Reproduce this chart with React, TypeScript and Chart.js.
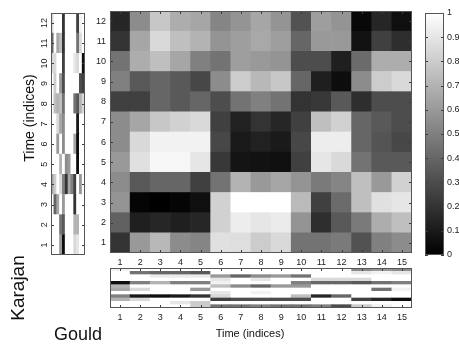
import React, { useEffect, useRef } from "react";
import { Chart, registerables } from "chart.js";
Chart.register(...registerables);

const FONT = "'Liberation Sans', Arial, sans-serif";

// Karajan time frames (columns of the similarity matrix)
const karajanTime = ["1", "2", "3", "4", "5", "6", "7", "8", "9", "10", "11", "12", "13", "14", "15"];
// Gould time frames (rows of the similarity matrix)
const gouldTime = [1, 2, 3, 4, 5, 6, 7, 8, 9, 10, 11, 12];
// chroma bins of the feature strips
const chromaBins = ["1", "2", "3", "4", "5", "6", "7", "8", "9", "10", "11", "12"];
const binIndex = [1, 2, 3, 4, 5, 6, 7, 8, 9, 10, 11, 12];
const colorbarTicks = [0, 0.1, 0.2, 0.3, 0.4, 0.5, 0.6, 0.7, 0.8, 0.9, 1];

// similarity[gouldTime-1][karajanTime-1]
const similarity: number[][] = [
  [0.2, 0.6, 0.72, 0.55, 0.52, 0.88, 0.87, 0.8, 0.85, 0.45, 0.45, 0.48, 0.32, 0.5, 0.55],
  [0.38, 0.12, 0.15, 0.12, 0.15, 0.82, 0.93, 0.9, 0.92, 0.58, 0.18, 0.35, 0.48, 0.68, 0.75],
  [0.58, 0.02, 0.0, 0.02, 0.06, 0.82, 1.0, 1.0, 1.0, 0.73, 0.25, 0.42, 0.75, 0.88, 0.9],
  [0.55, 0.35, 0.4, 0.4, 0.25, 0.45, 0.7, 0.6, 0.65, 0.58, 0.48, 0.52, 0.75, 0.6, 0.82],
  [0.6, 0.88, 0.97, 0.97, 0.9, 0.22, 0.08, 0.07, 0.06, 0.25, 0.9, 0.85, 0.45, 0.35, 0.35],
  [0.55, 0.85, 0.95, 0.95, 0.95, 0.28, 0.1, 0.13, 0.1, 0.28, 0.93, 0.93, 0.4, 0.33, 0.28],
  [0.55, 0.65, 0.78, 0.82, 0.85, 0.25, 0.13, 0.2, 0.15, 0.25, 0.75, 0.82, 0.4, 0.35, 0.3],
  [0.25, 0.25, 0.4, 0.35, 0.4, 0.3, 0.45, 0.5, 0.45, 0.2, 0.22, 0.35, 0.18, 0.3, 0.3],
  [0.5, 0.35, 0.4, 0.35, 0.28, 0.55, 0.8, 0.72, 0.78, 0.4, 0.12, 0.05, 0.55, 0.8, 0.85],
  [0.45, 0.68, 0.75, 0.65, 0.5, 0.45, 0.62, 0.6, 0.58, 0.3, 0.3, 0.12, 0.42, 0.68, 0.68],
  [0.2, 0.65, 0.85, 0.75, 0.7, 0.58, 0.62, 0.66, 0.62, 0.4, 0.6, 0.6, 0.07, 0.25, 0.18],
  [0.15, 0.55, 0.78, 0.68, 0.65, 0.52, 0.58, 0.65, 0.58, 0.32, 0.62, 0.58, 0.03, 0.15, 0.06],
];

// gouldChroma[gouldTime-1][bin-1]
const gouldChroma: number[][] = [
  [1, 1, 1, 0.6, 0.05, 1, 1, 1, 0.85, 0.9, 1, 1],
  [1, 1, 1, 0.45, 0.35, 1, 1, 1, 0.7, 0.7, 1, 1],
  [1, 0.4, 0.65, 1, 0.6, 1, 1, 1, 0.2, 1, 1, 1],
  [0.65, 0.8, 1, 0.85, 0.5, 0.2, 0.65, 0.5, 0.25, 1, 0.6, 1],
  [1, 1, 1, 0.7, 1, 0.55, 0.6, 1, 1, 0.05, 1, 1],
  [1, 1, 0.6, 1, 0.55, 1, 1, 1, 0.65, 0.05, 1, 1],
  [1, 1, 0.85, 0.65, 0.55, 1, 1, 1, 1, 0.1, 1, 1],
  [1, 0.75, 0.7, 0.75, 0.45, 1, 1, 1, 0.45, 0.35, 0.7, 0.85],
  [1, 0.8, 1, 0.6, 0.3, 1, 1, 1, 1, 1, 0.3, 0.25],
  [0.85, 0.85, 1, 1, 0.25, 1, 1, 1, 0.9, 0.85, 1, 0.05],
  [0.4, 1, 0.65, 0.75, 0.2, 1, 1, 1, 1, 0.45, 0.85, 1],
  [0.85, 1, 1, 1, 0.2, 1, 1, 1, 1, 0.25, 0.95, 1],
];

// karajanChroma[bin-1][karajanTime-1], bin 1 at the bottom of the strip
const karajanChroma: number[][] = [
  [1, 1, 1, 1, 0.8, 0.45, 0.45, 0.5, 0.45, 0.45, 0.5, 0.3, 0.8, 0.95, 1],
  [1, 1, 1, 0.9, 0.8, 1, 1, 1, 1, 1, 1, 1, 1, 1, 1],
  [0.7, 0.85, 1, 1, 1, 0.25, 0.3, 0.3, 0.3, 0.3, 1, 1, 0.25, 0.15, 0.05],
  [0.5, 0.1, 0.05, 0.1, 0.2, 0.85, 1, 1, 1, 0.75, 0.15, 0.4, 1, 1, 1],
  [1, 1, 1, 1, 1, 0.9, 1, 0.95, 1, 1, 1, 1, 1, 1, 1],
  [0.65, 0.85, 1, 1, 0.6, 1, 1, 1, 1, 1, 1, 1, 1, 0.45, 0.95],
  [0.7, 1, 1, 1, 1, 0.75, 0.55, 0.4, 0.6, 0.6, 1, 1, 1, 1, 1],
  [0.05, 0.5, 0.7, 0.5, 0.5, 0.95, 1, 1, 1, 0.5, 0.4, 0.4, 0.35, 0.45, 0.5],
  [1, 1, 1, 1, 1, 0.9, 1, 0.9, 1, 1, 0.85, 0.85, 0.85, 1, 1],
  [1, 1, 0.92, 0.92, 0.92, 0.6, 0.4, 0.55, 0.6, 0.45, 1, 1, 1, 1, 1],
  [1, 0.45, 0.4, 0.4, 0.35, 1, 1, 1, 1, 1, 1, 1, 0.9, 0.95, 0.9],
  [0.95, 1, 1, 1, 1, 1, 1, 1, 1, 1, 1, 1, 0.55, 0.6, 0.55],
];

const gray = (v: number) => {
  const g = Math.round(Math.max(0, Math.min(1, v)) * 255);
  return `rgb(${g},${g},${g})`;
};

const framePlugin = {
  id: "frame",
  afterDraw(chart: any, _args: any, opts: any) {
    const { ctx, chartArea: a } = chart;
    const L = 3;
    ctx.save();
    ctx.strokeStyle = "#3a3a3a";
    ctx.lineWidth = 1;
    const line = (x1: number, y1: number, x2: number, y2: number) => {
      ctx.beginPath();
      ctx.moveTo(x1, y1);
      ctx.lineTo(x2, y2);
      ctx.stroke();
    };
    if (opts.x) {
      const s = chart.scales.x;
      for (const v of opts.x) {
        const p = Math.round(s.getPixelForValue(v)) + 0.5;
        line(p, a.top, p, a.top + L);
        line(p, a.bottom, p, a.bottom - L);
      }
    }
    if (opts.y) {
      const s = chart.scales.y;
      for (const v of opts.y) {
        const p = Math.round(s.getPixelForValue(v)) + 0.5;
        line(a.left, p, a.left + L, p);
        line(a.right, p, a.right - L, p);
      }
    }
    ctx.strokeStyle = "#555";
    ctx.strokeRect(Math.round(a.left) + 0.5, Math.round(a.top) + 0.5, Math.round(a.width) - 1, Math.round(a.height) - 1);
    if (opts.yLabels) {
      const s = chart.scales.y;
      ctx.fillStyle = "#222";
      ctx.font = `9px ${FONT}`;
      ctx.textAlign = "center";
      ctx.textBaseline = "middle";
      for (const v of opts.yLabels.values) {
        const p = s.getPixelForValue(v);
        ctx.save();
        ctx.translate(opts.yLabels.x, p);
        ctx.rotate(-Math.PI / 2);
        ctx.fillText(String(v), 0, 0);
        ctx.restore();
      }
    }
    ctx.restore();
  },
};

const hidden = { display: false, grid: { display: false, drawTicks: false }, border: { display: false } };

const baseOptions = {
  responsive: false,
  animation: false as const,
  events: [] as any[],
  plugins: { legend: { display: false }, tooltip: { enabled: false } },
};

const tickFont = { family: FONT, size: 9 };

export default function App() {
  const mainRef = useRef<HTMLCanvasElement>(null);
  const leftRef = useRef<HTMLCanvasElement>(null);
  const bottomRef = useRef<HTMLCanvasElement>(null);
  const barRef = useRef<HTMLCanvasElement>(null);

  useEffect(() => {
    const charts: Chart[] = [];

    charts.push(
      new Chart(mainRef.current!, {
        type: "bar",
        data: {
          labels: karajanTime,
          datasets: gouldTime.map((t, r) => ({
            data: karajanTime.map(() => [t - 0.5, t + 0.5]),
            backgroundColor: similarity[r].map(gray),
            borderWidth: 0,
            grouped: false,
            barPercentage: 1,
            categoryPercentage: 1,
          })),
        } as any,
        options: {
          ...baseOptions,
          layout: { padding: { top: 11, right: 7, left: 0, bottom: 0 } },
          scales: {
            x: {
              type: "category",
              grid: { display: false, drawTicks: false },
              border: { display: false },
              ticks: { font: tickFont, color: "#222", padding: 4, maxRotation: 0, autoSkip: false },
              afterFit: (s: any) => { s.height = 22; },
            },
            y: {
              type: "linear",
              min: 0.5,
              max: 12.5,
              grid: { display: false, drawTicks: false },
              border: { display: false },
              ticks: { font: tickFont, color: "#222", padding: 4 },
              afterBuildTicks: (s: any) => { s.ticks = gouldTime.map((v) => ({ value: v })); },
              afterFit: (s: any) => { s.width = 31; },
            },
          },
          plugins: {
            ...baseOptions.plugins,
            frame: { x: karajanTime.map((_, i) => i), y: gouldTime },
          },
        } as any,
        plugins: [framePlugin],
      })
    );

    charts.push(
      new Chart(leftRef.current!, {
        type: "bar",
        data: {
          labels: chromaBins,
          datasets: gouldTime.map((t, r) => ({
            data: chromaBins.map(() => [t - 0.5, t + 0.5]),
            backgroundColor: gouldChroma[r].map(gray),
            borderWidth: 0,
            grouped: false,
            barPercentage: 1,
            categoryPercentage: 1,
          })),
        } as any,
        options: {
          ...baseOptions,
          layout: { padding: { top: 13, right: 10, left: 51, bottom: 10 } },
          scales: {
            x: { type: "category", ...hidden },
            y: { type: "linear", min: 0.5, max: 12.5, ...hidden },
          },
          plugins: {
            ...baseOptions.plugins,
            frame: { y: gouldTime, yLabels: { values: gouldTime, x: 45 } },
          },
        } as any,
        plugins: [framePlugin],
      })
    );

    charts.push(
      new Chart(bottomRef.current!, {
        type: "bar",
        data: {
          labels: karajanTime,
          datasets: binIndex.map((b, r) => ({
            data: karajanTime.map(() => [b - 0.5, b + 0.5]),
            backgroundColor: karajanChroma[r].map(gray),
            borderWidth: 0,
            grouped: false,
            barPercentage: 1,
            categoryPercentage: 1,
          })),
        } as any,
        options: {
          ...baseOptions,
          layout: { padding: { top: 6, right: 7, left: 31, bottom: 0 } },
          scales: {
            x: {
              type: "category",
              grid: { display: false, drawTicks: false },
              border: { display: false },
              ticks: { font: tickFont, color: "#222", padding: 4, maxRotation: 0, autoSkip: false },
              afterFit: (s: any) => { s.height = 22; },
            },
            y: { type: "linear", min: 0.5, max: 12.5, ...hidden },
          },
          plugins: {
            ...baseOptions.plugins,
            frame: { x: karajanTime.map((_, i) => i) },
          },
        } as any,
        plugins: [framePlugin],
      })
    );

    charts.push(
      new Chart(barRef.current!, {
        type: "bar",
        data: {
          labels: ["colorbar"],
          datasets: [
            {
              data: [[colorbarTicks[0], colorbarTicks[colorbarTicks.length - 1]]],
              backgroundColor: (c: any) => {
                const ca = c.chart.chartArea;
                if (!ca) return "#808080";
                const g = c.chart.ctx.createLinearGradient(0, ca.bottom, 0, ca.top);
                g.addColorStop(0, "#000000");
                g.addColorStop(1, "#ffffff");
                return g;
              },
              borderWidth: 0,
              barPercentage: 1,
              categoryPercentage: 1,
            },
          ],
        } as any,
        options: {
          ...baseOptions,
          layout: { padding: { top: 13, right: 0, left: 6, bottom: 15 } },
          scales: {
            x: { type: "category", ...hidden },
            y: {
              type: "linear",
              position: "right",
              min: 0,
              max: 1,
              grid: { display: false, drawTicks: false },
              border: { display: false },
              ticks: {
                font: tickFont,
                color: "#222",
                padding: 3,
                callback: (v: any) => String(Number(Number(v).toFixed(1))),
              },
              afterBuildTicks: (s: any) => { s.ticks = colorbarTicks.map((v) => ({ value: v })); },
              afterFit: (s: any) => { s.width = 15; },
            },
          },
          plugins: {
            ...baseOptions.plugins,
            frame: { y: colorbarTicks },
          },
        } as any,
        plugins: [framePlugin],
      })
    );

    return () => charts.forEach((c) => c.destroy());
  }, []);

  const abs = (left: number, top: number): React.CSSProperties => ({ position: "absolute", left, top });
  const textStyle = (size: number): React.CSSProperties => ({
    fontFamily: FONT,
    fontSize: size,
    color: "#111",
    whiteSpace: "nowrap",
    lineHeight: 1,
  });

  return (
    <div style={{ position: "absolute", left: 0, top: 0, width: 459, height: 347, background: "#fff", overflow: "hidden" }}>
      <canvas ref={leftRef} width={95} height={265} style={abs(0, 0)} />
      <canvas ref={mainRef} width={340} height={275} style={abs(79, 0)} />
      <canvas ref={bottomRef} width={340} height={68} style={abs(79, 262)} />
      <canvas ref={barRef} width={40} height={270} style={abs(419, 0)} />
      <div style={{ ...abs(29, 118), ...textStyle(14), transform: "translate(-50%, -50%) rotate(-90deg)" }}>Time (indices)</div>
      <div style={{ ...abs(250, 333), ...textStyle(11), transform: "translate(-50%, -50%)" }}>Time (indices)</div>
      <div style={{ ...abs(17, 288), ...textStyle(19), transform: "translate(-50%, -50%) rotate(-90deg)" }}>Karajan</div>
      <div style={{ ...abs(54, 325), ...textStyle(18) }}>Gould</div>
    </div>
  );
}
